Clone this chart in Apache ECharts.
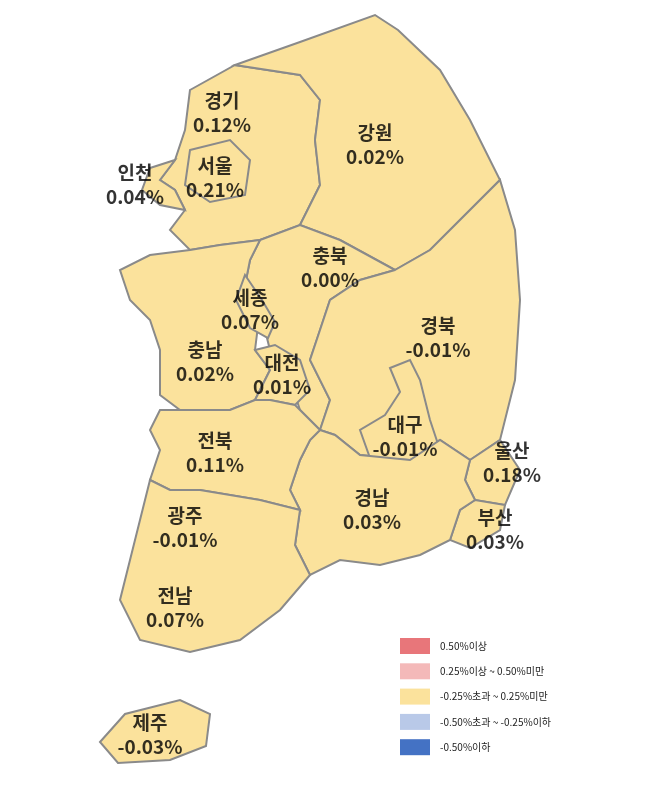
<!DOCTYPE html><html><head><meta charset="utf-8"><script src="https://cdn.jsdelivr.net/npm/echarts@6/dist/echarts.min.js"></script>
<style>html,body{margin:0;padding:0;background:#fff}#c{width:650px;height:797px}</style></head><body><div id="c"></div><script>
const regions=['경기','강원','인천','서울','충북','충남','세종','대전','경북','대구','울산','부산','경남','전북','광주','전남','제주'];
const values=[0.12,0.02,0.04,0.21,0.00,0.02,0.07,0.01,-0.01,-0.01,0.18,0.03,0.03,0.11,-0.01,0.07,-0.03];
const legendLabels=['0.50%이상','0.25%이상 ~ 0.50%미만','-0.25%초과 ~ 0.25%미만','-0.50%초과 ~ -0.25%이하','-0.50%이하'];
const legendColors=['#e8767a','#f4b9b9','#fbe29c','#b9c9e8','#4472c4'];
const labelPos={'경기':[222,113],'강원':[375,145],'인천':[135,185],'서울':[215,178],'충북':[330,268],'충남':[205,362],'세종':[250,310],'대전':[282,375],'경북':[438,338],'대구':[405,437],'울산':[512,463],'부산':[495,530],'경남':[372,510],'전북':[215,453],'광주':[185,528],'전남':[175,608],'제주':[150,735]};
const shapes={
'경기':[[190,90],[235,65],[300,75],[320,100],[315,140],[320,185],[300,225],[260,240],[220,245],[190,250],[170,230],[185,210],[175,190],[160,180],[175,160],[185,130]],
'강원':[[235,65],[300,42],[375,15],[398,30],[440,70],[470,120],[500,180],[430,250],[395,270],[340,240],[300,225],[320,185],[315,140],[320,100],[300,75]],
'인천':[[150,168],[175,160],[160,180],[175,190],[185,210],[160,205],[142,190]],
'서울':[[190,150],[230,140],[250,160],[245,195],[210,202],[185,185]],
'충북':[[260,240],[300,225],[340,240],[395,270],[360,280],[330,300],[320,330],[310,360],[330,400],[320,430],[300,410],[290,380],[270,350],[260,310],[245,285],[250,260]],
'충남':[[190,250],[220,245],[260,240],[250,260],[245,285],[260,310],[255,350],[270,370],[255,400],[230,410],[180,410],[160,395],[160,350],[150,320],[130,300],[120,270],[150,255]],
'세종':[[245,275],[262,300],[275,322],[268,338],[250,328],[236,300]],
'대전':[[255,350],[275,345],[300,360],[310,390],[295,405],[270,400],[255,400],[270,370]],
'경북':[[395,270],[430,250],[500,180],[515,230],[520,300],[515,380],[500,440],[470,460],[440,440],[410,460],[360,455],[335,435],[320,430],[330,400],[310,360],[320,330],[330,300],[360,280]],
'대구':[[390,368],[410,360],[420,380],[430,420],[440,450],[410,460],[370,458],[360,430],[385,415],[400,392]],
'울산':[[470,460],[500,440],[520,470],[505,505],[475,500],[465,480]],
'부산':[[460,510],[475,500],[505,505],[500,530],[470,548],[450,540]],
'경남':[[320,430],[335,435],[360,455],[410,460],[440,440],[470,460],[465,480],[475,500],[460,510],[450,540],[420,555],[380,565],[340,560],[310,575],[295,545],[300,510],[290,490],[300,460],[310,440]],
'전북':[[160,410],[180,410],[230,410],[255,400],[270,400],[295,405],[320,430],[310,440],[300,460],[290,490],[300,510],[260,500],[230,495],[200,490],[170,490],[150,480],[160,450],[150,430]],
'광주':[[168,510],[210,503],[226,530],[200,552],[168,545]],
'전남':[[150,480],[170,490],[200,490],[230,495],[260,500],[300,510],[295,545],[310,575],[280,610],[240,640],[190,652],[140,640],[120,600],[130,560],[140,520]],
'제주':[[100,742],[125,714],[180,700],[210,714],[206,746],[170,760],[118,763]]};
function colorOf(v){return v>=0.5?legendColors[0]:v>=0.25?legendColors[1]:v>-0.25?legendColors[2]:v>-0.5?legendColors[3]:legendColors[4];}
const chart=echarts.init(document.getElementById('c'));
const data=regions.map((r,i)=>({name:r,value:[labelPos[r][0],labelPos[r][1],values[i],i]}));
chart.setOption({animation:false,
grid:{left:0,right:0,top:0,bottom:0},
xAxis:{type:'value',min:0,max:650,show:false},
yAxis:{type:'value',min:0,max:797,inverse:true,show:false},
series:[{type:'custom',data:data,renderItem:function(p,api){const r=regions[api.value(3)];return{type:'polygon',shape:{points:shapes[r].map(pt=>api.coord(pt))},style:{fill:colorOf(api.value(2)),stroke:'#8a8a8a',lineWidth:2}};},z:1},
{type:'scatter',data:data,symbolSize:0,z:5,label:{show:true,position:'inside',formatter:p=>p.name+'\n'+p.value[2].toFixed(2)+'%',fontFamily:'Noto Sans CJK KR',fontWeight:'bold',fontSize:19,lineHeight:24,color:'#000',textBorderWidth:0}},
{type:'custom',data:legendLabels.map((l,i)=>[i]),z:5,renderItem:function(p,api){const i=api.value(0);const pt=api.coord([400,646+i*25.3]);return{type:'group',children:[{type:'rect',shape:{x:pt[0],y:pt[1]-8,width:30,height:16},style:{fill:legendColors[i]}},{type:'text',style:{x:pt[0]+40,y:pt[1],text:legendLabels[i],fill:'#222',font:'10px "Noto Sans CJK KR"',verticalAlign:'middle'}}]};}}]});
</script></body></html>
